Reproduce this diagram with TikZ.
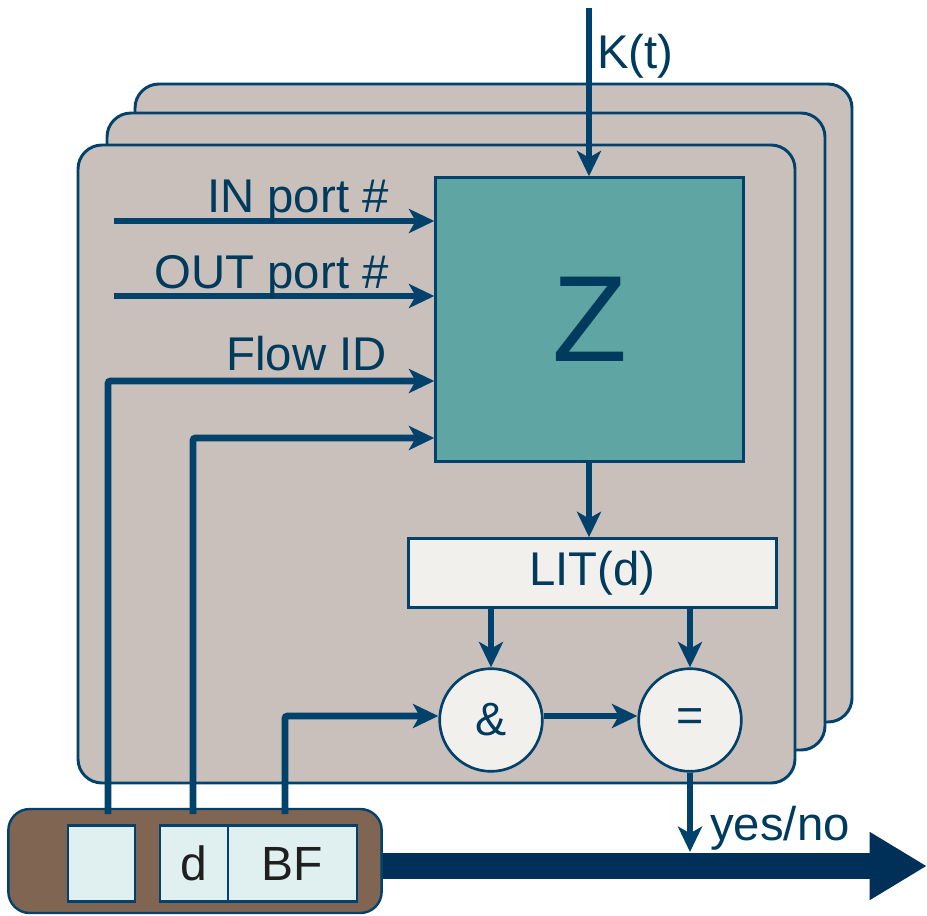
\documentclass[tikz,border=0pt]{standalone}
\usepackage{fontspec}
\setmainfont{Liberation Sans}
\usetikzlibrary{arrows.meta,positioning}
\definecolor{navy}{HTML}{00426B}
\definecolor{txtblue}{HTML}{003A5C}
\definecolor{cardfill}{HTML}{C9C0BB}
\definecolor{zfill}{HTML}{5FA5A3}
\definecolor{litfill}{HTML}{F2F0ED}
\definecolor{brown}{HTML}{7F6552}
\definecolor{cellfill}{HTML}{E0F0F0}
\definecolor{bigarrow}{HTML}{003057}
\begin{document}
\begin{tikzpicture}[x=0.75pt,y=-0.75pt,
  card/.style={draw=navy,line width=2.2pt,fill=cardfill,rounded corners=18pt},
  flow/.style={draw=navy,line width=5.2pt,-{Stealth[length=19pt,width=18pt,inset=5pt]}},
  lbl/.style={text=txtblue,font=\fontsize{35.5}{40}\selectfont,inner sep=0pt},
  circ/.style={circle,draw=navy,line width=2pt,fill=litfill,minimum size=77pt,inner sep=0pt,text=txtblue,font=\fontsize{35}{40}\selectfont},
  cell/.style={draw=navy,line width=1.8pt,fill=cellfill,minimum height=57pt,inner sep=0pt,font=\fontsize{36}{40}\selectfont,text=black!88}
]
\useasboundingbox (0,0) rectangle (927,915);
% stacked cards
\draw[card] (135,84) rectangle (852,722);
\draw[card] (107,113) rectangle (825,750);
\draw[card] (78,145) rectangle (795,783);

% Z box
\node[draw=navy,line width=1.8pt,fill=zfill,minimum width=231pt,minimum height=213pt,inner sep=0pt,
  text=txtblue,font=\fontsize{92}{100}\selectfont] (Z) at (589.5,319.5) {Z};
% LIT box
\node[draw=navy,line width=1.8pt,fill=litfill,minimum width=276pt,minimum height=52pt,inner sep=0pt,
  text=txtblue,font=\fontsize{35.5}{40}\selectfont] (LIT) at (592.5,573) {LIT(d)};
% circles
\node[circ] (and) at (491,720) {\&};
\node[circ] (eq) at (690,720) {=};

% bottom register
\node[draw=navy,line width=1.8pt,fill=brown,rounded corners=16pt,minimum width=280pt,minimum height=78pt,inner sep=0pt] (reg) at (195,861) {};
\node[cell,minimum width=50pt] (c0) at (101.5,863.5) {};
\node[cell,minimum width=51pt] (cd) at (194,863.5) {d};
\node[cell,minimum width=97pt] (cbf) at (292.5,863.5) {BF};

% coordinates
\coordinate (kin) at (589,8);
\coordinate (inS) at (114,221);
\coordinate (outS) at (114,296);
\coordinate (fidS) at (108,814);
\coordinate (dS) at (193,814);
\coordinate (bfS) at (285,814);
\coordinate (yn) at (690,852);
\coordinate (bigEnd) at (927,866);

% K(t)
\draw[flow] (kin) -- (Z.north -| kin);
\node[lbl,anchor=base west] (kt) at (597,68) {K(t)};

% inputs
\draw[flow] (inS) -- (inS -| Z.west);
\node[lbl,anchor=base east] (inl) at (389,212) {IN port \#};
\draw[flow] (outS) -- (outS -| Z.west);
\node[lbl,anchor=base east] (outl) at (389,288) {OUT port \#};
\draw[flow,rounded corners=2pt] (fidS) -- (108,381) -- (Z.west |- 0,381);
\node[lbl,anchor=base east] (fidl) at (387,370) {Flow ID};
\draw[flow,rounded corners=2pt] (dS) -- (193,438) -- (Z.west |- 0,438);
\draw[flow,rounded corners=2pt] (bfS) -- (285,716) -- (and.west |- 0,716);

% internal
\draw[flow] (Z.south -| 589,0) -- (LIT.north -| 589,0);
\draw[flow] (LIT.south -| and) -- (and.north);
\draw[flow] (LIT.south -| eq) -- (eq.north);
\draw[flow] (and.east |- 0,716) -- (eq.west |- 0,716);
\draw[flow] (eq.south) -- (yn);
\node[lbl,anchor=base west] (ynl) at (710,840) {yes/no};

% big output arrow
\draw[draw=bigarrow,line width=20pt,-{Triangle[length=43pt,width=48pt]}] (reg.east |- bigEnd) -- (bigEnd);
\end{tikzpicture}
\end{document}
